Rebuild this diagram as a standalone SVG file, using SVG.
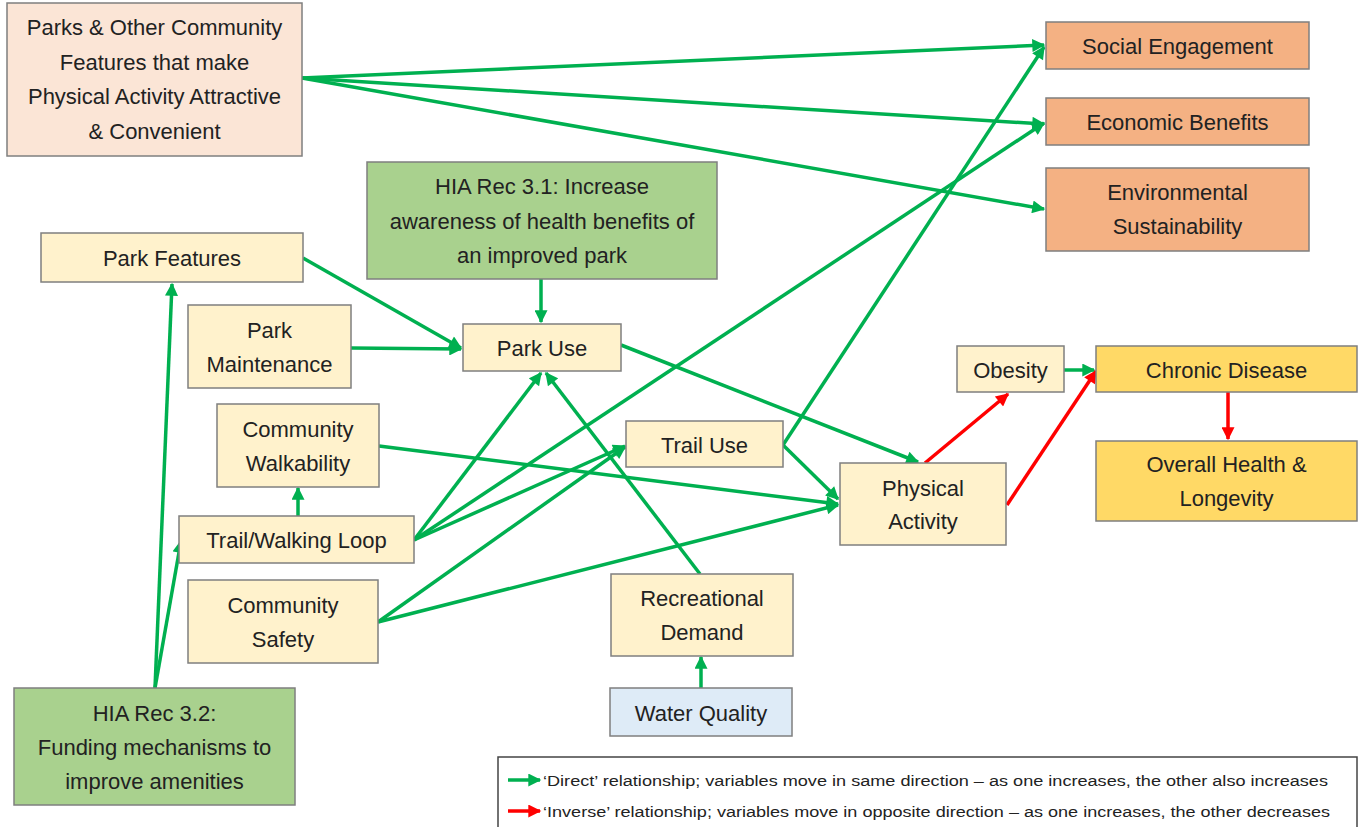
<svg xmlns="http://www.w3.org/2000/svg" width="1361" height="827" viewBox="0 0 1361 827">
<style>
.n rect{stroke:#7f7f7f;stroke-width:1.5}
.y rect{fill:#FFF2CC}
.o rect{fill:#F4B183}
.g rect{fill:#A9D18E}
.p rect{fill:#FBE5D6}
.b rect{fill:#DEEBF7}
.d rect{fill:#FFD966}
text{font-family:"Liberation Sans",Arial,sans-serif;font-size:22px;fill:#222;text-anchor:middle;dominant-baseline:central}
.gl{stroke:#00B050;stroke-width:3.5;fill:none;marker-end:url(#ag)}
.rl{stroke:#FF0000;stroke-width:3.5;fill:none;marker-end:url(#ar)}
.lg text{font-size:15.5px;text-anchor:start}
</style>
<defs>
<marker id="ag" viewBox="0 0 10 10" refX="9" refY="5" markerWidth="15" markerHeight="13" markerUnits="userSpaceOnUse" orient="auto"><path d="M0,0L10,5L0,10z" fill="#00B050"/></marker>
<marker id="ar" viewBox="0 0 10 10" refX="9" refY="5" markerWidth="15" markerHeight="13" markerUnits="userSpaceOnUse" orient="auto"><path d="M0,0L10,5L0,10z" fill="#FF0000"/></marker>
</defs>
<rect width="1361" height="827" fill="#fff"/>

<g id="connectors">
<line class="gl" x1="302" y1="78" x2="1044" y2="45"/>
<line class="gl" x1="302" y1="78" x2="1044" y2="124"/>
<line class="gl" x1="302" y1="78" x2="1044" y2="209"/>
<line class="gl" x1="541" y1="279" x2="541" y2="322"/>
<line class="gl" x1="303" y1="258" x2="461" y2="348"/>
<line class="gl" x1="351" y1="348" x2="461" y2="349"/>
<line class="gl" x1="621" y1="345" x2="918" y2="462"/>
<line class="rl" x1="925" y1="463" x2="1008" y2="394"/>
<line class="rl" x1="1007" y1="505" x2="1096" y2="371"/>
<line class="gl" x1="1064" y1="370" x2="1094" y2="370"/>
<line class="rl" x1="1228" y1="392" x2="1228" y2="439"/>
<line class="gl" x1="783" y1="445" x2="1044" y2="47"/>
<line class="gl" x1="783" y1="445" x2="838" y2="499"/>
<line class="gl" x1="414" y1="540" x2="541" y2="373"/>
<line class="gl" x1="414" y1="540" x2="1044" y2="123"/>
<line class="gl" x1="414" y1="540" x2="625" y2="446"/>
<line class="gl" x1="379" y1="446" x2="838" y2="504"/>
<line class="gl" x1="378" y1="622" x2="625" y2="447"/>
<line class="gl" x1="378" y1="622" x2="838" y2="505"/>
<line class="gl" x1="700" y1="574" x2="546" y2="373"/>
<line class="gl" x1="701" y1="688" x2="701" y2="657"/>
<line class="gl" x1="298" y1="516" x2="298" y2="488"/>
<line class="gl" x1="155" y1="688" x2="172" y2="284"/>
<line class="gl" x1="155" y1="688" x2="181" y2="541"/>
</g>

<g id="parks-community" class="n p"><rect x="7" y="3" width="295" height="153"/>
<text x="154.5" y="27">Parks &amp; Other Community</text><text x="154.5" y="62">Features that make</text><text x="154.5" y="96">Physical Activity Attractive</text><text x="154.5" y="131">&amp; Convenient</text></g>

<g id="social-engagement" class="n o"><rect x="1046" y="22" width="263" height="47"/><text x="1177.5" y="46">Social Engagement</text></g>
<g id="economic-benefits" class="n o"><rect x="1046" y="98" width="263" height="47"/><text x="1177.5" y="122">Economic Benefits</text></g>
<g id="environmental-sustainability" class="n o"><rect x="1046" y="168" width="263" height="83"/><text x="1177.5" y="192">Environmental</text><text x="1177.5" y="226">Sustainability</text></g>

<g id="hia-3-1" class="n g"><rect x="367" y="162" width="350" height="117"/>
<text x="542" y="186">HIA Rec 3.1: Increase</text><text x="542" y="221">awareness of health benefits of</text><text x="542" y="255">an improved park</text></g>

<g id="park-features" class="n y"><rect x="41" y="233" width="262" height="49"/><text x="172" y="258">Park Features</text></g>
<g id="park-maintenance" class="n y"><rect x="188" y="305" width="163" height="83"/><text x="269.5" y="330">Park</text><text x="269.5" y="364">Maintenance</text></g>
<g id="park-use" class="n y"><rect x="463" y="324" width="158" height="47"/><text x="542" y="348">Park Use</text></g>
<g id="community-walkability" class="n y"><rect x="217" y="404" width="162" height="83"/><text x="298" y="429">Community</text><text x="298" y="463">Walkability</text></g>
<g id="trail-walking-loop" class="n y"><rect x="179" y="516" width="235" height="47"/><text x="296.5" y="540">Trail/Walking Loop</text></g>
<g id="community-safety" class="n y"><rect x="188" y="580" width="190" height="83"/><text x="283" y="605">Community</text><text x="283" y="639">Safety</text></g>
<g id="hia-3-2" class="n g"><rect x="14" y="688" width="281" height="117"/>
<text x="154.5" y="713">HIA Rec 3.2:</text><text x="154.5" y="747">Funding mechanisms to</text><text x="154.5" y="781">improve amenities</text></g>
<g id="trail-use" class="n y"><rect x="626" y="421" width="157" height="46"/><text x="704.5" y="445">Trail Use</text></g>
<g id="recreational-demand" class="n y"><rect x="611" y="574" width="182" height="82"/><text x="702" y="598">Recreational</text><text x="702" y="632">Demand</text></g>
<g id="water-quality" class="n b"><rect x="610" y="688" width="182" height="48"/><text x="701" y="713">Water Quality</text></g>
<g id="physical-activity" class="n y"><rect x="840" y="463" width="166" height="82"/><text x="923" y="488">Physical</text><text x="923" y="521">Activity</text></g>
<g id="obesity" class="n y"><rect x="957" y="346" width="107" height="46"/><text x="1010.5" y="370">Obesity</text></g>
<g id="chronic-disease" class="n d"><rect x="1096" y="346" width="261" height="46"/><text x="1226.5" y="370">Chronic Disease</text></g>
<g id="overall-health" class="n d"><rect x="1096" y="441" width="261" height="80"/><text x="1226.5" y="464">Overall Health &amp;</text><text x="1226.5" y="498">Longevity</text></g>

<g id="legend" class="lg">
<rect x="498" y="757" width="859" height="80" fill="#fff" stroke="#444" stroke-width="1.5"/>
<line x1="508" y1="780" x2="540" y2="780" stroke="#00B050" stroke-width="3.5" marker-end="url(#ag)"/>
<text x="543" y="780" textLength="785" lengthAdjust="spacingAndGlyphs">‘Direct’ relationship; variables move in same direction – as one increases, the other also increases</text>
<line x1="508" y1="811" x2="540" y2="811" stroke="#FF0000" stroke-width="3.5" marker-end="url(#ar)"/>
<text x="543" y="811" textLength="787" lengthAdjust="spacingAndGlyphs">‘Inverse’ relationship; variables move in opposite direction – as one increases, the other decreases</text>
</g>
</svg>
